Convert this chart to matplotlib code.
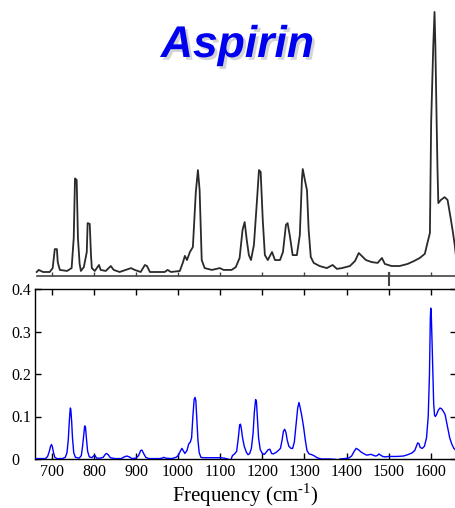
import matplotlib
matplotlib.use("Agg")
import matplotlib.pyplot as plt
import matplotlib.patheffects as pe

# Measured Raman spectrum (relative intensity)
exp_freq = [664, 669, 674, 679, 695, 702, 707, 712, 714, 719, 736, 747, 752, 755, 759,
            762, 766, 769, 776, 783, 785, 790, 793, 795, 802, 812, 816, 828, 840, 847,
            861, 888, 897, 911, 921, 926, 933, 968, 975, 983, 1004, 1011, 1016, 1021,
            1028, 1035, 1042, 1047, 1051, 1056, 1063, 1080, 1099, 1108, 1127, 1137,
            1146, 1153, 1158, 1163, 1168, 1173, 1180, 1187, 1192, 1196, 1201, 1206,
            1213, 1223, 1230, 1242, 1249, 1256, 1260, 1265, 1272, 1282, 1289, 1294,
            1296, 1301, 1306, 1310, 1315, 1322, 1336, 1353, 1367, 1377, 1389, 1408,
            1420, 1429, 1436, 1446, 1460, 1474, 1484, 1491, 1507, 1526, 1545, 1560,
            1574, 1586, 1591, 1598, 1601, 1606, 1609, 1611, 1614, 1616, 1618, 1624,
            1633, 1640, 1647, 1652, 1657, 1660]
exp_int = [0.0, 0.008, 0.004, 0.0, 0.0, 0.015, 0.088, 0.088, 0.038, 0.008, 0.004, 0.015,
           0.131, 0.36, 0.354, 0.131, 0.031, 0.004, 0.019, 0.077, 0.188, 0.185, 0.065,
           0.015, 0.004, 0.027, 0.008, 0.004, 0.023, 0.008, 0.0, 0.015, 0.008, 0.0,
           0.027, 0.023, 0.0, 0.0, 0.008, 0.0, 0.004, 0.035, 0.062, 0.046, 0.077,
           0.096, 0.308, 0.392, 0.315, 0.046, 0.015, 0.008, 0.015, 0.008, 0.008, 0.019,
           0.054, 0.162, 0.192, 0.123, 0.065, 0.046, 0.104, 0.269, 0.392, 0.385, 0.2,
           0.065, 0.046, 0.077, 0.046, 0.046, 0.077, 0.181, 0.188, 0.142, 0.065, 0.065,
           0.142, 0.354, 0.396, 0.354, 0.315, 0.162, 0.058, 0.035, 0.023, 0.015, 0.027,
           0.012, 0.015, 0.023, 0.042, 0.073, 0.062, 0.046, 0.038, 0.035, 0.054, 0.031,
           0.023, 0.023, 0.031, 0.042, 0.054, 0.07, 0.104, 0.15, 0.577, 0.87, 1.0, 0.87,
           0.577, 0.4, 0.265, 0.277, 0.288, 0.277, 0.21, 0.16, 0.104, 0.06]

# Calculated spectrum
calc_freq = [660, 670, 685, 690, 694, 697, 699, 701, 704, 707, 712, 725, 732, 736, 739,
             741, 743, 744, 745, 747, 749, 752, 756, 765, 770, 773, 776, 778, 780, 782,
             785, 789, 795, 800, 803, 806, 815, 822, 827, 830, 834, 839, 850, 865, 872,
             878, 884, 890, 900, 906, 911, 914, 918, 923, 930, 955, 962, 966, 970, 985,
             995, 1000, 1005, 1009, 1012, 1016, 1021, 1025, 1029, 1032, 1035, 1038, 1040,
             1042, 1044, 1047, 1050, 1054, 1060, 1080, 1100, 1110, 1118, 1123, 1126, 1129,
             1134, 1139, 1143, 1146, 1148, 1150, 1153, 1157, 1162, 1166, 1170, 1174, 1178,
             1181, 1184, 1186, 1188, 1191, 1195, 1200, 1205, 1210, 1214, 1218, 1222, 1226,
             1232, 1238, 1243, 1247, 1250, 1253, 1256, 1259, 1263, 1268, 1272, 1276, 1280,
             1284, 1287, 1290, 1294, 1298, 1302, 1306, 1311, 1318, 1324, 1330, 1340, 1360,
             1375, 1380, 1384, 1395, 1405, 1412, 1418, 1423, 1428, 1435, 1442, 1448, 1453,
             1458, 1463, 1468, 1473, 1477, 1481, 1486, 1492, 1500, 1520, 1535, 1545, 1555,
             1562, 1566, 1569, 1572, 1575, 1580, 1585, 1590, 1594, 1597, 1599, 1600, 1601,
             1603, 1605, 1607, 1609, 1611, 1614, 1618, 1622, 1626, 1630, 1634, 1637, 1641,
             1645, 1650, 1655, 1660]
calc_int = [0.001, 0.001, 0.001, 0.006, 0.018, 0.03, 0.034, 0.03, 0.015, 0.004, 0.001,
            0.001, 0.004, 0.015, 0.045, 0.08, 0.11, 0.12, 0.117, 0.09, 0.05, 0.015, 0.004,
            0.002, 0.008, 0.03, 0.06, 0.078, 0.075, 0.05, 0.018, 0.005, 0.003, 0.008, 0.008,
            0.002, 0.002, 0.004, 0.011, 0.013, 0.01, 0.003, 0.001, 0.001, 0.005, 0.007,
            0.005, 0.001, 0.002, 0.008, 0.02, 0.021, 0.013, 0.004, 0.001, 0.001, 0.002,
            0.004, 0.002, 0.001, 0.004, 0.008, 0.018, 0.025, 0.02, 0.013, 0.02, 0.035,
            0.04, 0.05, 0.1, 0.14, 0.145, 0.138, 0.1, 0.045, 0.015, 0.004, 0.003, 0.003,
            0.003, 0.002, 0.0, -0.003, 0.0, 0.008, 0.012, 0.018, 0.05, 0.08, 0.082, 0.072,
            0.05, 0.03, 0.016, 0.01, 0.013, 0.025, 0.06, 0.11, 0.14, 0.135, 0.1, 0.05,
            0.022, 0.013, 0.011, 0.017, 0.022, 0.023, 0.013, 0.012, 0.015, 0.02, 0.025,
            0.045, 0.065, 0.07, 0.063, 0.045, 0.03, 0.025, 0.025, 0.04, 0.08, 0.12, 0.133,
            0.12, 0.1, 0.075, 0.045, 0.02, 0.012, 0.01, 0.007, 0.003, 0.0, 0.0, -0.001,
            -0.004, 0.0, 0.001, 0.002, 0.007, 0.018, 0.025, 0.022, 0.016, 0.012, 0.009,
            0.01, 0.011, 0.009, 0.007, 0.008, 0.012, 0.009, 0.006, 0.005, 0.006, 0.006,
            0.007, 0.01, 0.014, 0.02, 0.03, 0.038, 0.036, 0.027, 0.025, 0.03, 0.05, 0.1,
            0.2, 0.33, 0.355, 0.35, 0.28, 0.2, 0.13, 0.103, 0.1, 0.105, 0.115, 0.12, 0.118,
            0.112, 0.105, 0.09, 0.07, 0.05, 0.035, 0.025, 0.02]

x_ticks = [700, 800, 900, 1000, 1100, 1200, 1300, 1400, 1500, 1600]
y_ticks = [0, 0.1, 0.2, 0.3, 0.4]
y_tick_labels = ["0", "0.1", "0.2", "0.3", "0.4"]
x_range = (660, 1660)

plt.rcParams["mathtext.fontset"] = "custom"
plt.rcParams["mathtext.rm"] = "Liberation Serif"

W, H = 456, 508
fig = plt.figure(figsize=(W / 100, H / 100), dpi=100)

# --- upper panel: measured spectrum ---
top_left = 37
ax_top = fig.add_axes([top_left / W, 1 - 276 / H, (W - top_left) / W, 276 / H])
ax_top.set_xlim(x_range[0] + (top_left - 35) / 0.421, x_range[1])
ax_top.set_ylim(-4 / 260, 272 / 260)
ax_top.plot(exp_freq, exp_int, color="#2a2a2a", lw=1.3, clip_on=False)
for s in ["top", "left", "right"]:
    ax_top.spines[s].set_visible(False)
ax_top.spines["bottom"].set_color("#444444")
ax_top.spines["bottom"].set_linewidth(1.2)
ax_top.set_yticks([])
ax_top.set_xticks(x_ticks)
ax_top.tick_params(axis="x", direction="in", length=3, width=1, color="#444444",
                   labelbottom=False)
# longer marker tick at 1500
ax_top.plot([1500, 1500], [-4 / 260, -13 / 260], color="#444444", lw=1.5,
            clip_on=False)
ax_top.plot([1500, 1500], [-4 / 260, -1 / 260], color="#444444", lw=1.5,
            clip_on=False)

t = fig.text(237.5 / W, 1 - 57 / H, "Aspirin", color="#0000f0",
             fontsize=32, fontweight="bold", fontstyle="italic",
             family="Liberation Sans", ha="center", va="baseline")
t.set_path_effects([pe.SimplePatchShadow(offset=(2, -2), shadow_rgbFace="#aaaaaa",
                                         alpha=0.5), pe.Normal()])

# --- lower panel: calculated spectrum ---
ax = fig.add_axes([35 / W, 1 - 459 / H, (W - 35) / W, 170 / H])
ax.plot(calc_freq, calc_int, color="#0000ff", lw=1.0, zorder=3)
ax.set_xlim(*x_range)
ax.set_ylim(0, 0.4)
ax.set_xticks(x_ticks)
ax.set_yticks(y_ticks)
ax.set_yticklabels(y_tick_labels)
ax.spines["right"].set_visible(False)
for s in ["left", "top", "bottom"]:
    ax.spines[s].set_linewidth(1.0)
ax.tick_params(direction="in", length=4, width=1, top=True, right=True,
               labelsize=11.5)
ax.tick_params(axis="y", pad=17)
for lab in ax.get_yticklabels():
    lab.set_horizontalalignment("left")
for lab in ax.get_xticklabels() + ax.get_yticklabels():
    lab.set_family("Liberation Serif")
ax.set_xlabel("Frequency (cm$^{\\text{-1}}$)", family="Liberation Serif",
              fontsize=15, labelpad=1)

fig.savefig("out.png", dpi=100)
